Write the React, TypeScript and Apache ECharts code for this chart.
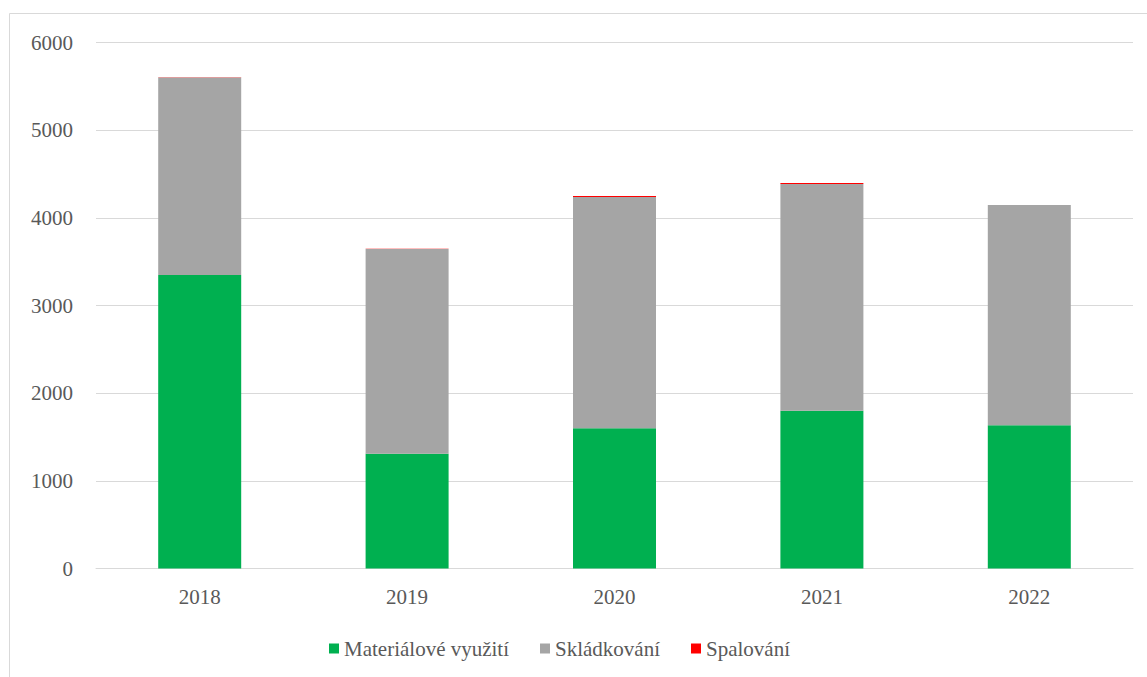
import React, { useEffect, useRef } from "react";
import * as echarts from "echarts";

const categories = ["2018", "2019", "2020", "2021", "2022"];
const materialove = [3348, 1310, 1600, 1800, 1633];
const skladkovani = [2252, 2334, 2637, 2587, 2513];
const spalovani = [3, 3, 12, 10, 0];
const yTicks = { min: 0, max: 6000, interval: 1000 };

const FONT = "Liberation Serif";
const FS = 21;

export default function App() {
  const ref = useRef<HTMLDivElement>(null);
  useEffect(() => {
    document.body.style.margin = "0";
    const chart = echarts.init(ref.current!, null, { renderer: "svg" });
    chart.setOption({
      animation: false,
      backgroundColor: "#ffffff",
      textStyle: { fontFamily: FONT, fontSize: FS },
      graphic: [
        {
          type: "rect",
          shape: { x: 9.5, y: 13.5, width: 1200, height: 700 },
          style: { fill: "none", stroke: "#d9d9d9", lineWidth: 1 },
          silent: true,
          z: -1,
        },
      ],
      grid: { left: 96, right: 14, top: 42.5, bottom: 108.5, containLabel: false },
      legend: {
        top: 638,
        left: 329,
        padding: 0,
        itemWidth: 10,
        itemHeight: 10,
        itemGap: 31,
        icon: "rect",
        textStyle: { fontFamily: FONT, fontSize: FS, color: "#595959" },
        data: ["Materiálové využití", "Skládkování", "Spalování"],
      },
      xAxis: {
        type: "category",
        data: categories,
        axisLine: { show: true, lineStyle: { color: "#d9d9d9", width: 1 } },
        axisTick: { show: false },
        axisLabel: { fontFamily: FONT, fontSize: FS, color: "#595959", margin: 18 },
      },
      yAxis: {
        type: "value",
        min: yTicks.min,
        max: yTicks.max,
        interval: yTicks.interval,
        axisLine: { show: false },
        axisTick: { show: false },
        splitLine: { lineStyle: { color: "#d9d9d9", width: 1 } },
        axisLabel: {
          fontFamily: FONT,
          fontSize: FS,
          color: "#595959",
          margin: 23,
          formatter: (v: number) => String(v),
        },
      },
      series: [
        {
          name: "Materiálové využití",
          type: "bar",
          stack: "total",
          barWidth: 83,
          data: materialove,
          itemStyle: { color: "#00b050" },
        },
        {
          name: "Skládkování",
          type: "bar",
          stack: "total",
          barWidth: 83,
          data: skladkovani,
          itemStyle: { color: "#a5a5a5" },
        },
        {
          name: "Spalování",
          type: "bar",
          stack: "total",
          barWidth: 83,
          data: spalovani,
          itemStyle: { color: "#ff0000" },
        },
      ],
    });
    return () => chart.dispose();
  }, []);
  return <div ref={ref} style={{ width: 1147, height: 677 }} />;
}
